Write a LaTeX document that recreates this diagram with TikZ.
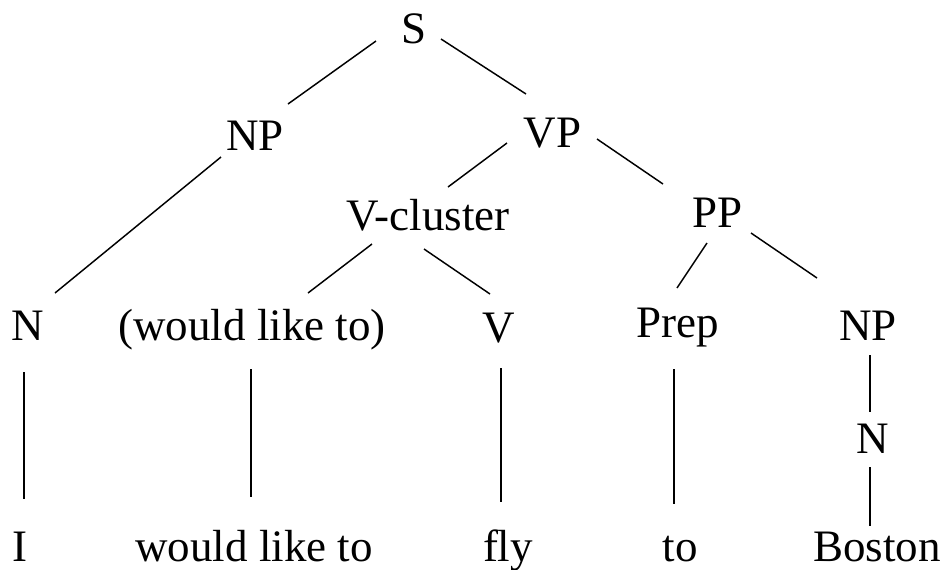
\documentclass[tikz,border=0pt]{standalone}
\usepackage{fontspec}
\setmainfont{Liberation Serif}
\begin{document}
\begin{tikzpicture}[x=0.75pt,y=-0.75pt,
  lbl/.style={anchor=base,inner sep=0pt,font=\fontsize{33.75}{40}\selectfont},
  edge/.style={line width=1.1pt}]
\useasboundingbox (0,0) rectangle (943,569);

% tree labels, placed by their baselines
\node[lbl] (S)    at (414,43)   {S};
\node[lbl] (NP)   at (255,150)  {NP};
\node[lbl] (VP)   at (552.5,147){VP};
\node[lbl] (Vcl)  at (428,230)  {V-cluster};
\node[lbl] (PP)   at (718,227)  {PP};
\node[lbl] (N1)   at (28,340)   {N};
\node[lbl] (WLT)  at (252,340)  {(would like to)};
\node[lbl] (V)    at (499,342)  {V};
\node[lbl] (Prep) at (678,337)  {Prep};
\node[lbl] (NPb)  at (868,340)  {NP};
\node[lbl] (N2)   at (873,453)  {N};
\node[lbl] (wI)   at (20,561)   {I};
\node[lbl] (wWLT) at (254,561)  {would like to};
\node[lbl] (wfly) at (508,561)  {fly};
\node[lbl] (wto)  at (680,561)  {to};
\node[lbl] (wBos) at (877,561)  {Boston};

% branches
\draw[edge] ([shift={(-38,-2)}]S.base)    -- ([shift={(33,-46)}]NP.base);
\draw[edge] ([shift={(27,-4)}]S.base)     -- ([shift={(-26.5,-53)}]VP.base);
\draw[edge] ([shift={(-34,7)}]NP.base)    -- ([shift={(27,-47)}]N1.base);
\draw[edge] ([shift={(-45.5,-4)}]VP.base) -- ([shift={(20,-43)}]Vcl.base);
\draw[edge] ([shift={(44.5,-8)}]VP.base)  -- ([shift={(-55,-43)}]PP.base);
\draw[edge] ([shift={(-56,14)}]Vcl.base)  -- ([shift={(56,-47)}]WLT.base);
\draw[edge] ([shift={(-4,19)}]Vcl.base)   -- ([shift={(-9,-48)}]V.base);
\draw[edge] ([shift={(-11,16)}]PP.base)   -- ([shift={(-1,-49)}]Prep.base);
\draw[edge] ([shift={(33,6)}]PP.base)     -- ([shift={(-51,-62)}]NPb.base);
\draw[edge] ([shift={(-4,32)}]N1.base)    -- ([shift={(4,-62)}]wI.base);
\draw[edge] ([shift={(-1,29)}]WLT.base)   -- ([shift={(-3,-64)}]wWLT.base);
\draw[edge] ([shift={(2,26)}]V.base)      -- ([shift={(-7,-59)}]wfly.base);
\draw[edge] ([shift={(-4,32)}]Prep.base)  -- ([shift={(-6,-57)}]wto.base);
\draw[edge] ([shift={(2,15)}]NPb.base)    -- ([shift={(-3,-41)}]N2.base);
\draw[edge] ([shift={(-3,14)}]N2.base)    -- ([shift={(-7,-35)}]wBos.base);
\end{tikzpicture}
\end{document}
